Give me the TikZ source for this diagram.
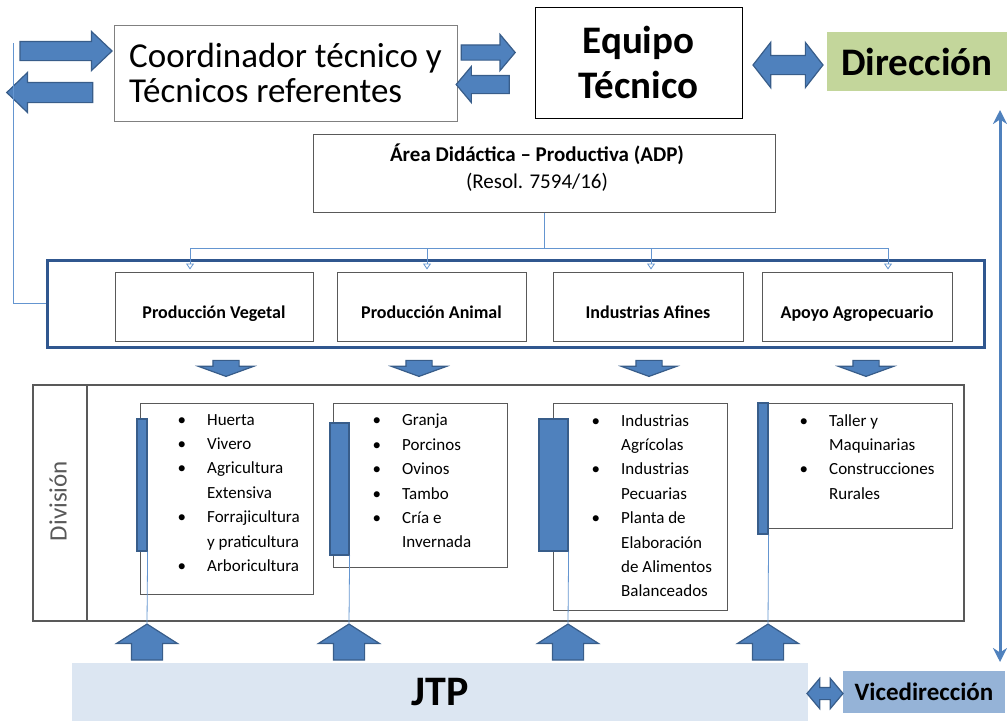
\documentclass[tikz,border=0pt]{standalone}
\usepackage{fontspec}
\setmainfont{Carlito}
\usetikzlibrary{shapes.arrows,arrows.meta}

\definecolor{arrowfill}{HTML}{4F81BD}
\definecolor{arrowline}{HTML}{385D8A}
\definecolor{linkblue}{HTML}{6495D0}
\definecolor{frameblue}{HTML}{30578F}
\definecolor{dirgreen}{HTML}{C3D69B}
\definecolor{jtpblue}{HTML}{DCE6F2}
\definecolor{viceblue}{HTML}{95B3D7}
\definecolor{boxgray}{HTML}{595959}

\newcommand\fsz[2]{\fontsize{#1}{#2}\selectfont}
\newcommand\itm{\llap{\textbullet\hspace{21pt}}}

\tikzset{
  box/.style={draw=boxgray, line width=1pt, inner sep=0pt},
  blk/.style={single arrow, draw=arrowline, fill=arrowfill, line width=1.2pt, inner xsep=0pt},
  blkdbl/.style={double arrow, draw=arrowline, fill=arrowfill, line width=1.2pt, inner xsep=0pt},
  link/.style={draw=linkblue, line width=0.8pt},
  listtxt/.style={anchor=north west, align=left, inner sep=0pt, font=\fsz{17}{24.4}},
  catbox/.style={box, minimum height=69pt, text height=23pt, text depth=0pt, font=\bfseries\fsz{18}{20}},
  bar/.style={draw=arrowline, fill=arrowfill, line width=1.2pt, inner sep=0pt},
}

\begin{document}
\begin{tikzpicture}[x=1pt, y=-1pt]
\useasboundingbox (0,0) rectangle (1007,721);

% top row
\node[box, draw=gray, minimum width=343pt, minimum height=96pt, align=left, font=\fsz{35}{35}] (coord) at (285.5,73) {Coordinador técnico y\\Técnicos referentes};
\node[box, draw=black, minimum width=207pt, minimum height=111pt, align=center, font=\bfseries\fsz{39}{45}] (equipo) at (638.5,62.5) {Equipo\\Técnico};
\node[fill=dirgreen, minimum width=180pt, minimum height=59pt, inner sep=0pt, font=\bfseries\fsz{39}{45}] (dir) at (917,61.5) {Dirección};

\node[blk, minimum height=92pt, inner ysep=9pt, single arrow head extend=10pt, single arrow tip angle=87] (ra1) at (61,51) {};
\node[blk, rotate=180, minimum height=86pt, inner ysep=9.5pt, single arrow head extend=10pt, single arrow tip angle=88] (la1) at (55,92.5) {};
\node[blk, minimum height=54pt, inner ysep=7pt, single arrow head extend=10.5pt, single arrow tip angle=100] (ra2) at (485,52.5) {};
\node[blk, rotate=180, minimum height=53pt, inner ysep=8.5pt, single arrow head extend=9pt, single arrow tip angle=100] (la2) at (486.5,84.5) {};
\node[blkdbl, minimum height=70pt, inner ysep=9pt, double arrow head extend=13pt, double arrow tip angle=104] (ed) at (788,65) {};

% right side
\coordinate (vtop) at (1000,110);
\coordinate (vbot) at (1000,662);
\draw[arrowfill, line width=3pt, {Stealth[length=14pt,width=14pt]}-{Stealth[length=14pt,width=14pt]}] (vtop) -- (vbot);

% ADP
\node[box, minimum width=462pt, minimum height=78pt] (adp) at (544,173) {};
\node[align=center, inner sep=0pt, font=\fsz{21}{27}] (adptxt) at (537,168) {\textbf{Área Didáctica – Productiva (ADP)}\\(Resol. 7594/16)};

\node[draw=frameblue, line width=3pt, minimum width=937pt, minimum height=87pt, inner sep=0pt] (area) at (515.5,303.5) {};
\node[catbox, minimum width=198pt] (veg) at (214,306.5) {Producción Vegetal};
\node[catbox, minimum width=189pt] (ani) at (431.5,306.5) {Producción Animal};
\node[catbox, minimum width=190pt] (ind) at (648,306.5) {Industrias Afines};
\node[catbox, minimum width=190pt] (apo) at (857,306.5) {Apoyo Agropecuario};

\coordinate (bus) at (545,248);
\draw[link] (adp.south) -- (adp.south |- bus);
\draw[link] ([xshift=-24pt]veg.north |- bus) -- ([xshift=31pt]apo.north |- bus);
\foreach \n/\dx in {veg/-24,ani/-4.5,ind/3,apo/31}
  \draw[link, -{Triangle[open,length=6pt,width=8pt]}] ([xshift=\dx pt]\n.north |- bus) -- ([xshift=\dx pt,yshift=2pt]\n.north);

\coordinate (ltop) at (13,43);
\draw[link] (ltop) |- (area.west);

\foreach \x [count=\i] in {226,419,649,866}
  \node[blk, rotate=-90, minimum height=16pt, inner ysep=12.5pt, single arrow head extend=14.5pt, single arrow tip angle=140] (dn\i) at (\x,366) {};

% division
\node[box, line width=1.3pt, minimum width=931pt, minimum height=236pt] (divbox) at (498.5,503) {};
\draw[boxgray, line width=1.3pt] (divbox.north west -| 87,0) -- (divbox.south west -| 87,0);
\node[rotate=90, text=black!65, font=\fsz{25}{27}] (divlbl) at (58,501) {División};

\node[box, minimum width=173pt, minimum height=191pt] (lst1) at (226.5,498.5) {};
\node[box, minimum width=174pt, minimum height=164pt] (lst2) at (420,485) {};
\node[box, minimum width=174pt, minimum height=207pt] (lst3) at (640,506.5) {};
\node[box, minimum width=184pt, minimum height=125pt] (lst4) at (860,465.5) {};

\node[listtxt] (txt1) at (207,414) {\itm Huerta\\\itm Vivero\\\itm Agricultura\\Extensiva\\\itm Forrajicultura\\y praticultura\\\itm Arboricultura};
\node[listtxt] (txt2) at (402,414) {\itm Granja\\\itm Porcinos\\\itm Ovinos\\\itm Tambo\\\itm Cría e\\Invernada};
\node[listtxt] (txt3) at (621,414) {\itm Industrias\\Agrícolas\\\itm Industrias\\Pecuarias\\\itm Planta de\\Elaboración\\de Alimentos\\Balanceados};
\node[listtxt] (txt4) at (829,414) {\itm Taller y\\Maquinarias\\\itm Construcciones\\Rurales};

\node[bar, minimum width=10pt, minimum height=132pt] (bar1) at (142,485) {};
\node[bar, minimum width=19pt, minimum height=132pt] (bar2) at (339.5,489) {};
\node[bar, minimum width=29pt, minimum height=132pt] (bar3) at (553.5,485) {};
\node[bar, minimum width=10pt, minimum height=131pt] (bar4) at (763,468.5) {};

% bottom
\foreach \x [count=\i] in {147,349,568,768}
  \node[blk, rotate=90, minimum height=36pt, inner ysep=15pt, single arrow head extend=15pt, single arrow tip angle=115] (up\i) at (\x,647) {};
\foreach \i in {1,...,4}
  \draw[link] (bar\i.south east) -- (up\i.tip);

\node[fill=jtpblue, minimum width=736pt, minimum height=58pt, inner sep=0pt, font=\bfseries\fsz{42}{44}] (jtp) at (440,692) {JTP};
\node[fill=viceblue, minimum width=162pt, minimum height=42pt, inner sep=0pt, font=\bfseries\fsz{25}{28}] (vice) at (924,692) {Vicedirección};
\node[blkdbl, minimum height=36pt, inner ysep=5.5pt, double arrow head extend=9pt, double arrow tip angle=100] (jv) at (825,693.5) {};
\end{tikzpicture}
\end{document}
